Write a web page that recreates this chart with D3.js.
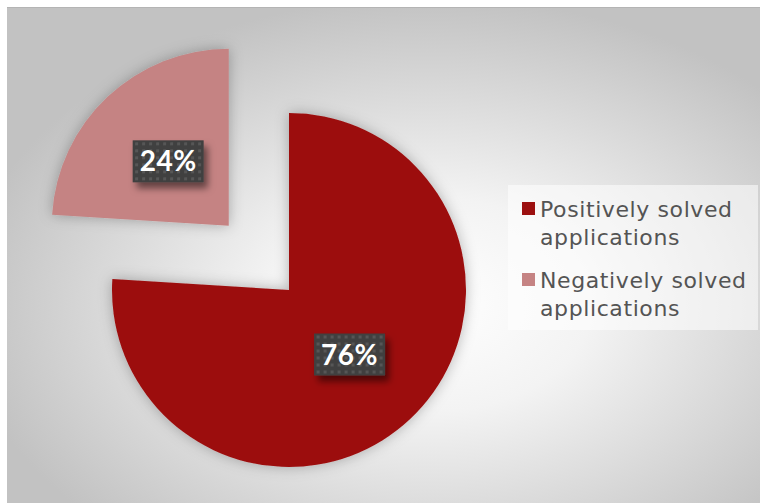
<!DOCTYPE html>
<html>
<head>
<meta charset="utf-8">
<script src="https://cdn.jsdelivr.net/npm/d3@7"></script>
<style>
  html, body { margin: 0; padding: 0; background: #ffffff; }
  svg { display: block; }
</style>
</head>
<body>
<svg id="chart" width="764" height="503"></svg>
<script>
// Application outcomes (share of all applications, %)
const categories = ["Positively solved applications", "Negatively solved applications"];
const values = [76, 24];
const legendLines = [["Positively solved", "applications"], ["Negatively solved", "applications"]];
const colors = ["#9c1010", "#c58383"];

const W = 764, H = 503;
const svg = d3.select("#chart");
const defs = svg.append("defs");

// Background: soft radial light
const bg = defs.append("radialGradient").attr("id", "bgGrad")
  .attr("cx", "0.56").attr("cy", "0.6").attr("r", "0.62");
bg.append("stop").attr("offset", "0").attr("stop-color", "#ffffff");
bg.append("stop").attr("offset", "0.35").attr("stop-color", "#f3f3f3");
bg.append("stop").attr("offset", "1").attr("stop-color", "#c2c2c2");

// Soft shadow around slices
const sf = defs.append("filter").attr("id", "sliceShadow")
  .attr("x", "-20%").attr("y", "-20%").attr("width", "140%").attr("height", "140%");
sf.append("feDropShadow").attr("dx", 0).attr("dy", 0).attr("stdDeviation", 7)
  .attr("flood-color", "#000").attr("flood-opacity", 0.28);

// Drop shadow for data-label boxes
const lf = defs.append("filter").attr("id", "labelShadow")
  .attr("x", "-30%").attr("y", "-30%").attr("width", "170%").attr("height", "180%");
lf.append("feDropShadow").attr("dx", 4).attr("dy", 6).attr("stdDeviation", 3.5)
  .attr("flood-color", "#000").attr("flood-opacity", 0.5);

// Dotted texture for label boxes
const pat = defs.append("pattern").attr("id", "dots")
  .attr("patternUnits", "userSpaceOnUse").attr("width", 7).attr("height", 7);
pat.append("rect").attr("width", 7).attr("height", 7).attr("fill", "#3f3f3f");
pat.append("rect").attr("x", 2).attr("y", 2).attr("width", 3).attr("height", 3).attr("fill", "#575757");

// Chart area
svg.append("rect").attr("x", 7).attr("y", 7).attr("width", 753).attr("height", 496)
  .attr("fill", "url(#bgGrad)");
svg.append("line").attr("x1", 7).attr("x2", 760).attr("y1", 7.5).attr("y2", 7.5)
  .attr("stroke", "#b4b4b4").attr("stroke-width", 1);

// Pie geometry
const cx = 289, cy = 290, radius = 177;
const explodeIdx = 1, explodeDist = 88;

const total = d3.sum(values);
const pie = d3.pie().sort(null).value(d => d);
const arcs = pie(values);
const arc = d3.arc().innerRadius(0).outerRadius(radius);
const labelArc = d3.arc().innerRadius(radius * 0.5).outerRadius(radius * 0.5);
const pct = d3.format(".0%");

function offset(d, i) {
  if (i !== explodeIdx) return [0, 0];
  const a = (d.startAngle + d.endAngle) / 2;
  return [Math.sin(a) * explodeDist, -Math.cos(a) * explodeDist];
}

const slices = svg.append("g").attr("transform", `translate(${cx},${cy})`);
slices.selectAll("path.slice")
  .data(arcs)
  .join("path")
  .attr("class", "slice")
  .attr("transform", (d, i) => { const o = offset(d, i); return `translate(${o[0]},${o[1]})`; })
  .attr("d", arc)
  .attr("fill", (d, i) => colors[i])
  .attr("filter", "url(#sliceShadow)");

// Percentage labels
const bw = 71, bh = 42;
const labels = slices.selectAll("g.lbl")
  .data(arcs)
  .join("g")
  .attr("class", "lbl")
  .attr("transform", (d, i) => {
    const o = offset(d, i);
    const c = labelArc.centroid(d);
    return `translate(${c[0] + o[0]},${c[1] + o[1]})`;
  });
labels.append("rect")
  .attr("x", -bw / 2).attr("y", -bh / 2).attr("width", bw).attr("height", bh)
  .attr("fill", "url(#dots)")
  .attr("filter", "url(#labelShadow)");
labels.append("text")
  .attr("text-anchor", "middle")
  .attr("dy", "0.36em")
  .attr("fill", "#ffffff")
  .attr("font-family", "Lato, 'DejaVu Sans', sans-serif")
  .attr("font-weight", 700)
  .attr("font-size", 28)
  .attr("letter-spacing", 0.5)
  .text(d => pct(d.data / total));

// Legend
const legend = svg.append("g");
legend.append("rect")
  .attr("x", 508).attr("y", 185).attr("width", 250).attr("height", 145)
  .attr("fill", "#ffffff").attr("fill-opacity", 0.55);

const itemY = [209, 280];
const lineGap = 28;
const items = legend.selectAll("g.item")
  .data(categories)
  .join("g")
  .attr("class", "item")
  .attr("transform", (d, i) => `translate(522,${itemY[i]})`);
items.append("rect")
  .attr("x", 0).attr("y", -7).attr("width", 13).attr("height", 13)
  .attr("fill", (d, i) => colors[i]);
const txt = items.append("text")
  .attr("x", 18)
  .attr("fill", "#545454")
  .attr("font-family", "'DejaVu Sans', sans-serif")
  .attr("font-size", 22)
  .attr("letter-spacing", 0.6);
txt.selectAll("tspan")
  .data((d, i) => legendLines[i])
  .join("tspan")
  .attr("x", 18)
  .attr("y", (d, j) => 8 + j * lineGap)
  .text(d => d);
</script>
</body>
</html>
